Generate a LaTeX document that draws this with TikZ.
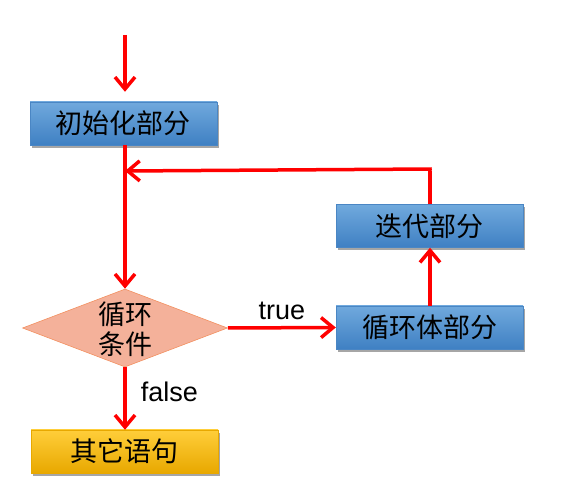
\documentclass[tikz,border=0pt]{standalone}
\usepackage{fontspec}
\setmainfont{Liberation Sans}
\newfontfamily\cjk{Noto Sans CJK SC}
\usetikzlibrary{arrows.meta,shapes.geometric,shadows}
\definecolor{arrowred}{HTML}{FF0000}
\definecolor{blueTop}{HTML}{70A9DD}
\definecolor{blueBot}{HTML}{3F80C3}
\definecolor{blueEdge}{HTML}{4A86C4}
\definecolor{yelTop}{HTML}{FFCE3A}
\definecolor{yelBot}{HTML}{E8A800}
\definecolor{diaFill}{HTML}{F4B19A}
\definecolor{diaEdge}{HTML}{F29060}
\tikzset{
  box/.style={rectangle, minimum width=187pt, minimum height=43pt, inner sep=0pt,
    top color=blueTop, bottom color=blueBot, draw=blueEdge, line width=0.4pt,
    drop shadow={shadow xshift=2pt, shadow yshift=-3pt, fill=black, opacity=0.35},
    font=\cjk\fontsize{27}{30}\selectfont},
  ybox/.style={box, top color=yelTop, bottom color=yelBot, draw=yelBot},
  cond/.style={diamond, aspect=2.63, minimum width=205pt, minimum height=78pt, inner sep=0pt,
    fill=diaFill, draw=diaEdge, line width=0.6pt, font=\cjk\fontsize{27}{30}\selectfont, align=center},
  flow/.style={draw=arrowred, line width=3.5pt, -{Straight Barb[length=12pt, width=20pt, line width=3.5pt]}},
  plain/.style={draw=arrowred, line width=3.5pt},
  lbl/.style={font=\fontsize{27}{30}\selectfont, inner sep=0pt}
}
\begin{document}
\begin{tikzpicture}[x=1pt, y=-1pt]
\useasboundingbox (0,0) rectangle (579,502);
\node[box] (init) at (123.5,123.5) {初始化部分};
\node[box] (body) at (429.5,327.5) {循环体部分};
\node[box] (iter) at (429.5,226) {迭代部分};
\node[ybox] (other) at (124.5,451.5) {其它语句};
\node[cond] (cond) at (125,328) {};
\node[font=\cjk\fontsize{27}{30}\selectfont, inner sep=0pt] (condA) at (125,314) {循环};
\node[font=\cjk\fontsize{27}{30}\selectfont, inner sep=0pt] (condB) at (125,344) {条件};
\coordinate (start) at (125,35);
\coordinate (corner) at (430,169);
\coordinate (join) at (125,171);
\draw[flow] (start) -- ([yshift=10pt]init.north -| start);
\draw[flow] (init.south -| start) -- (cond.north);
\draw[flow] (cond.east) -- node[lbl, above=6pt] {true} (body.west);
\draw[flow] (cond.south) -- node[lbl, right=14pt, pos=0.4] {false} (other.north -| cond.south);
\draw[flow] (body.north -| corner) -- (iter.south -| corner);
\draw[plain] (iter.north -| corner) -- ([yshift=-1.75pt]corner);
\draw[flow] ([xshift=1.75pt]corner) -- (join);
\end{tikzpicture}
\end{document}
